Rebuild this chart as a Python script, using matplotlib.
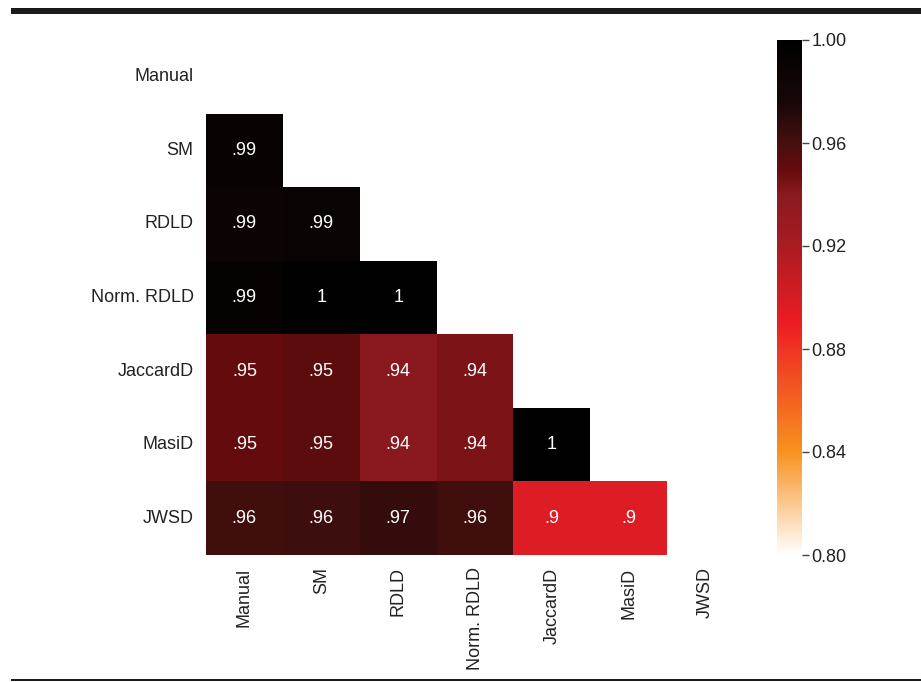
import numpy as np
import matplotlib
matplotlib.use("Agg")
import matplotlib.pyplot as plt
from matplotlib.colors import LinearSegmentedColormap
from matplotlib.patches import Rectangle
import seaborn as sns

labels = ["Manual", "SM", "RDLD", "Norm. RDLD", "JaccardD", "MasiD", "JWSD"]

# lower-triangle correlations (row i vs columns 0..i-1)
row_sm = [0.992]
row_rdld = [0.988, 0.990]
row_norm = [0.993, 0.998, 0.998]
row_jaccard = [0.951, 0.953, 0.940, 0.944]
row_masi = [0.951, 0.953, 0.940, 0.944, 0.998]
row_jwsd = [0.962, 0.963, 0.966, 0.962, 0.897, 0.897]
rows = [[], row_sm, row_rdld, row_norm, row_jaccard, row_masi, row_jwsd]

vmin, vmax = 0.80, 1.00
cb_ticks = [0.80, 0.84, 0.88, 0.92, 0.96, 1.00]

n = len(labels)
data = np.ones((n, n))
for i, r in enumerate(rows):
    for j, v in enumerate(r):
        data[i, j] = v
        data[j, i] = v
mask = np.triu(np.ones((n, n), dtype=bool))


def fmt(v):
    return f"{v:.2f}".lstrip("0").rstrip("0").rstrip(".")


annot = np.array([[fmt(data[i, j]) for j in range(n)] for i in range(n)])

nodes = [
    (0.80, (1.00, 1.00, 1.00)),
    (0.84, (0.97, 0.57, 0.12)),
    (0.89, (0.93, 0.11, 0.14)),
    (0.92, (0.66, 0.11, 0.13)),
    (0.94, (0.54, 0.10, 0.12)),
    (0.95, (0.40, 0.04, 0.05)),
    (0.96, (0.28, 0.06, 0.06)),
    (0.975, (0.10, 0.03, 0.03)),
    (1.00, (0.00, 0.00, 0.00)),
]
cmap = LinearSegmentedColormap.from_list(
    "custom", [((v - vmin) / (vmax - vmin), c) for v, c in nodes], N=512)

plt.rcParams["font.family"] = ["Liberation Sans", "DejaVu Sans"]
W, H = 921, 682
fig = plt.figure(figsize=(W / 100, H / 100), dpi=100)

ax = fig.add_axes([206 / W, (H - 555) / H, 538 / W, 515 / H])
cax = fig.add_axes([777 / W, (H - 555) / H, 25 / W, 515 / H])

sns.heatmap(data, mask=mask, cmap=cmap, vmin=vmin, vmax=vmax,
            annot=annot, fmt="", annot_kws={"fontsize": 13, "color": "white"},
            xticklabels=labels, yticklabels=labels,
            ax=ax, cbar_ax=cax, cbar_kws={"ticks": cb_ticks})

ax.tick_params(axis="both", length=0, pad=9, labelsize=13, labelcolor="#222222")
ax.set_yticklabels(labels, rotation=0)
ax.set_xticklabels(labels, rotation=90)

cax.tick_params(labelsize=13, length=5, width=1, colors="#222222", pad=2)
cax.set_yticklabels([f"{t:.2f}" for t in cb_ticks])
cax.yaxis.set_tick_params(color="#444444")
for s in cax.spines.values():
    s.set_visible(False)

# publication rules at top and bottom
fig.add_artist(Rectangle((11 / W, 1 - 14 / H), 1 - 11 / W, 6 / H,
                         transform=fig.transFigure, color="#1a1a1a", lw=0))
fig.add_artist(Rectangle((11 / W, 1 - 681 / H), 1 - 11 / W, 2 / H,
                         transform=fig.transFigure, color="#1a1a1a", lw=0))

fig.savefig("out.png", dpi=100)
